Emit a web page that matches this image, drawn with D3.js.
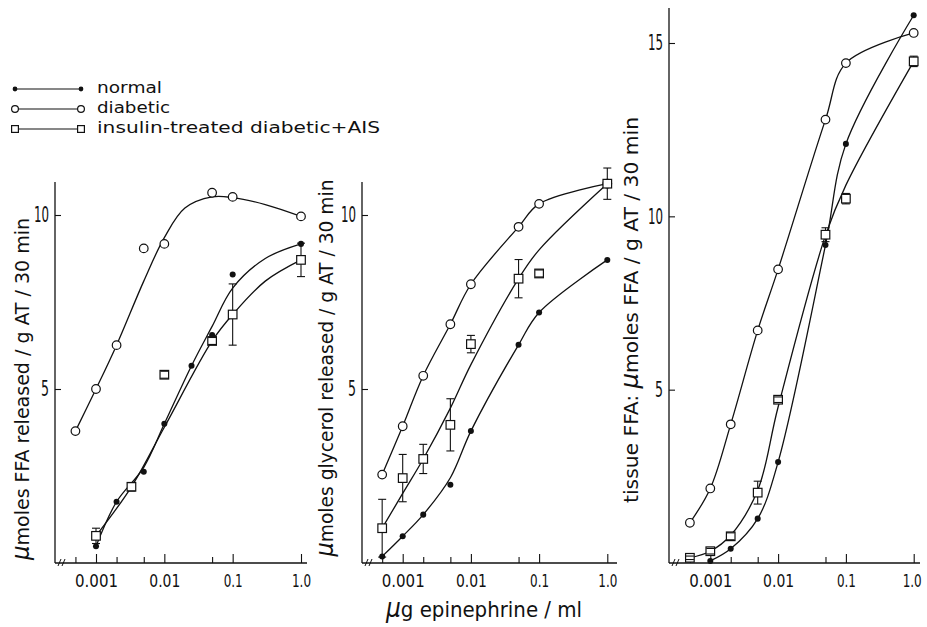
<!DOCTYPE html>
<html>
<head>
<meta charset="utf-8">
<script src="https://cdn.jsdelivr.net/npm/d3@7"></script>
<style>
  body { margin: 0; background: #fff; }
  text { font-family: "Liberation Sans Narrow", "DejaVu Sans Condensed", Roboto, sans-serif; fill: #111; }
  .legend text { font-family: "DejaVu Sans", "Noto Sans", sans-serif; }
</style>
</head>
<body>
<div id="chart"></div>
<script>
// ---- data (dose in ug epinephrine / ml) ----
var doses = [0.0005, 0.001, 0.002, 0.005, 0.01, 0.05, 0.1, 1.0];
var tickDoses = [0.0005, 0.001, 0.002, 0.005, 0.01, 0.05, 0.1, 1.0];
var decadeLabels = { 0.001: "0.001", 0.01: "0.01", 0.1: "0.1", 1: "1.0" };

// panel 1: FFA released
var ffaDiabetic = [3.79, 5.0, 6.26, 9.04, 9.17, 10.64, 10.52, 9.96];
var ffaNormalDose = [0.001, 0.002, 0.005, 0.01, 0.025, 0.05, 0.1, 1.0];
var ffaNormal = [0.48, 1.76, 2.62, 4.0, 5.67, 6.55, 8.29, 9.17];
var ffaAisDose = [0.001, 0.0033, 0.01, 0.05, 0.1, 1.0];
var ffaAis = [0.78, 2.19, 5.41, 6.38, 7.14, 8.71];
var ffaAisErr = [0.22, 0.12, 0.1, 0.1, 0.88, 0.48];
// hand-drawn fitted curves
var ffaDiabCurveDose = [0.0005, 0.001, 0.002, 0.005, 0.01, 0.02, 0.05, 0.1, 0.3, 1.0];
var ffaDiabCurve = [3.79, 5.0, 6.26, 8.1, 9.35, 10.2, 10.52, 10.5, 10.3, 9.96];
var ffaNormCurveDose = [0.001, 0.002, 0.005, 0.01, 0.025, 0.05, 0.1, 0.3, 1.0];
var ffaNormCurve = [0.48, 1.76, 2.75, 4.0, 5.67, 6.8, 7.9, 8.75, 9.17];
var ffaAisCurveDose = [0.001, 0.0033, 0.01, 0.05, 0.1, 0.3, 1.0];
var ffaAisCurve = [0.78, 2.19, 3.9, 6.38, 7.14, 8.1, 8.71];

// panel 2: glycerol released
var glyDiabetic = [2.54, 3.93, 5.38, 6.86, 8.01, 9.66, 10.32, 10.9];
var glyNormal = [0.19, 0.77, 1.39, 2.25, 3.79, 6.27, 7.2, 8.71];
var glyAis = [1.0, 2.44, 2.99, 3.97, 6.29, 8.17, 8.32, 10.9];
var glyAisErr = [0.83, 0.68, 0.42, 0.75, 0.25, 0.55, 0.1, 0.45];
var glyNormCurve = [0.19, 0.77, 1.39, 2.45, 3.79, 6.27, 7.2, 8.71];
var glyAisCurve = [1.0, 2.0, 2.99, 4.45, 5.7, 8.17, 9.0, 10.9];

// panel 3: tissue FFA
var tisDiabetic = [1.16, 2.15, 4.0, 6.71, 8.47, 12.79, 14.42, 15.29];
var tisNormalDose = [0.001, 0.002, 0.005, 0.01, 0.05, 0.1, 1.0];
var tisNormal = [0.06, 0.41, 1.28, 2.91, 9.17, 12.09, 15.8];
var tisAis = [0.15, 0.34, 0.77, 2.03, 4.71, 9.47, 10.51, 14.47];
var tisAisErr = [0.05, 0.08, 0.1, 0.33, 0.08, 0.2, 0.15, 0.15];
var tisAisCurve = [0.15, 0.34, 0.8, 2.1, 4.5, 9.45, 10.9, 14.47];

var legendNames = ["normal", "diabetic", "insulin-treated  diabetic+AIS"];
var legendKinds = ["normal", "diabetic", "ais"];

var zip = function(a, b) { return a.map(function(d, i) { return [d, b[i]]; }); };

// ---- panel layout ----
var panels = [
  { axisX: 55, xRange: [96, 301], axisEnd: 307, top: 182, yDomain: [0, 10], yRange: [563, 215], yTicks: [5, 10],
    label: ["", "moles FFA released / g AT / 30 min"], labelX: 22, labelY: 389, labelLen: 342,
    series: [
      { kind: "diabetic", pts: zip(doses, ffaDiabetic), curve: zip(ffaDiabCurveDose, ffaDiabCurve) },
      { kind: "normal", pts: zip(ffaNormalDose, ffaNormal), curve: zip(ffaNormCurveDose, ffaNormCurve) },
      { kind: "ais", pts: zip(ffaAisDose, ffaAis), err: ffaAisErr, curve: zip(ffaAisCurveDose, ffaAisCurve) }
    ] },
  { axisX: 362, xRange: [402.7, 607.3], axisEnd: 617, top: 182, yDomain: [0, 10], yRange: [563, 215], yTicks: [5, 10],
    label: ["", "moles glycerol released / g AT / 30 min"], labelX: 326, labelY: 368, labelLen: 377,
    series: [
      { kind: "diabetic", pts: zip(doses, glyDiabetic), curve: zip(doses, glyDiabetic) },
      { kind: "normal", pts: zip(doses, glyNormal), curve: zip(doses, glyNormCurve) },
      { kind: "ais", pts: zip(doses, glyAis), err: glyAisErr, curve: zip(doses, glyAisCurve) }
    ] },
  { axisX: 669, xRange: [710.3, 913.7], axisEnd: 920, top: 8, yDomain: [0, 15], yRange: [563, 43], yTicks: [5, 10, 15],
    label: ["tissue FFA: ", "moles FFA / g AT / 30 min"], labelX: 631, labelY: 310, labelLen: 386,
    series: [
      { kind: "diabetic", pts: zip(doses, tisDiabetic), curve: zip(doses, tisDiabetic) },
      { kind: "normal", pts: zip(tisNormalDose, tisNormal), curve: zip(tisNormalDose, tisNormal) },
      { kind: "ais", pts: zip(doses, tisAis), err: tisAisErr, curve: zip(doses, tisAisCurve) }
    ] }
];

var svg = d3.select("#chart").append("svg")
  .attr("width", 927).attr("height", 627);

function drawMarker(g, kind, cx, cy, size) {
  if (kind === "normal") {
    g.append("circle").attr("cx", cx).attr("cy", cy).attr("r", size * 0.7).attr("fill", "#111");
  } else if (kind === "diabetic") {
    g.append("circle").attr("cx", cx).attr("cy", cy).attr("r", size)
      .attr("fill", "#fff").attr("stroke", "#111").attr("stroke-width", 1.2);
  } else {
    g.append("rect").attr("x", cx - size).attr("y", cy - size).attr("width", size * 2).attr("height", size * 2)
      .attr("fill", "#fff").attr("stroke", "#111").attr("stroke-width", 1.2);
  }
}

// narrow the condensed font a little more, like the original lettering
var tickTextWidth = { 5: 43, 4: 31, 3: 19, 2: 15, 1: 8 };
function squeeze(sel) {
  sel.attr("textLength", function() { return tickTextWidth[this.textContent.length]; })
     .attr("lengthAdjust", "spacingAndGlyphs");
}

panels.forEach(function(p, pi) {
  var x = d3.scaleLog().domain([0.001, 1]).range(p.xRange);
  var y = d3.scaleLinear().domain(p.yDomain).range(p.yRange);
  var base = y(0);
  var g = svg.append("g");

  // axis lines
  g.append("line").attr("x1", p.axisX).attr("x2", p.axisX).attr("y1", base).attr("y2", p.top)
    .attr("stroke", "#111").attr("stroke-width", 1.3);
  g.append("line").attr("x1", p.axisX).attr("x2", p.axisEnd).attr("y1", base).attr("y2", base)
    .attr("stroke", "#111").attr("stroke-width", 1.3);
  // break marks "//"
  [3, 7].forEach(function(o) {
    g.append("line").attr("x1", p.axisX + o).attr("y1", base + 3).attr("x2", p.axisX + o + 3).attr("y2", base - 4)
      .attr("stroke", "#111").attr("stroke-width", 1);
  });

  // x ticks (pointing inward)
  var xa = g.append("g").attr("transform", "translate(0," + base + ")")
    .call(d3.axisBottom(x).tickValues(tickDoses).tickSize(-6).tickPadding(11)
      .tickFormat(function(d) { return decadeLabels[d] || ""; }));
  xa.select(".domain").remove();
  xa.selectAll(".tick line").attr("stroke", "#111").attr("stroke-width", 1.1)
    .attr("y2", function(d) { return decadeLabels[d] ? -9 : -6; });
  xa.selectAll(".tick text").attr("font-size", 18).attr("fill", "#111")
    .filter(function(d) { return decadeLabels[d]; }).call(squeeze);
  // keep the last label of the right panel inside the page
  if (pi === panels.length - 1) {
    xa.selectAll(".tick text").filter(function(d) { return d === 1; }).attr("dx", -2);
  }

  // y ticks (pointing inward)
  var ya = g.append("g").attr("transform", "translate(" + p.axisX + ",0)")
    .call(d3.axisLeft(y).tickValues(p.yTicks).tickSize(-6).tickPadding(6).tickFormat(d3.format("d")));
  ya.select(".domain").remove();
  ya.selectAll(".tick line").attr("stroke", "#111").attr("stroke-width", 1.1);
  ya.selectAll(".tick text").attr("font-size", 21).attr("fill", "#111").call(squeeze);

  // y label
  var lab = g.append("text").attr("transform", "translate(" + p.labelX + "," + p.labelY + ") rotate(-90)")
    .attr("text-anchor", "middle").attr("dy", "0.35em").attr("font-size", 20)
    .attr("textLength", p.labelLen).attr("lengthAdjust", "spacingAndGlyphs");
  lab.append("tspan").text(p.label[0]);
  lab.append("tspan").attr("font-style", "italic").attr("font-size", 24).text("\u03bc");
  lab.append("tspan").text(p.label[1]);

  var line = d3.line().x(function(d) { return x(d[0]); }).y(function(d) { return y(d[1]); })
    .curve(d3.curveCatmullRom.alpha(0.5));

  p.series.forEach(function(s) {
    g.append("path").attr("d", line(s.curve)).attr("fill", "none")
      .attr("stroke", "#111").attr("stroke-width", 1.3);
  });

  p.series.forEach(function(s) {
    var mg = g.append("g");
    if (s.err) {
      s.pts.forEach(function(d, i) {
        mg.append("line").attr("x1", x(d[0])).attr("x2", x(d[0]))
          .attr("y1", y(d[1] - s.err[i])).attr("y2", y(d[1] + s.err[i]))
          .attr("stroke", "#111").attr("stroke-width", 1.1);
      });
    }
    s.pts.forEach(function(d) {
      drawMarker(mg, s.kind, x(d[0]), y(d[1]), 4.3);
    });
    if (s.err) {
      s.pts.forEach(function(d, i) {
        [d[1] - s.err[i], d[1] + s.err[i]].forEach(function(v) {
          mg.append("line").attr("x1", x(d[0]) - 4).attr("x2", x(d[0]) + 4)
            .attr("y1", y(v)).attr("y2", y(v)).attr("stroke", "#111").attr("stroke-width", 1.1);
        });
      });
    }
  });
});

// x axis title
var xt = svg.append("text").attr("x", 484).attr("y", 617).attr("text-anchor", "middle").attr("font-size", 22);
xt.append("tspan").attr("font-style", "italic").attr("font-size", 26).text("\u03bc");
xt.append("tspan").text("g  epinephrine / ml");

// legend
var legendWidths = [65, 73, 283];
var legY = d3.scalePoint().domain(legendKinds).range([89, 129]);
var leg = svg.append("g").attr("class", "legend");
legendKinds.forEach(function(k, i) {
  var ly = legY(k);
  leg.append("line").attr("x1", 15).attr("x2", 81).attr("y1", ly).attr("y2", ly)
    .attr("stroke", "#111").attr("stroke-width", 1.2);
  drawMarker(leg, k, 15, ly, 3.4);
  drawMarker(leg, k, 81, ly, 3.4);
  leg.append("text").attr("x", 97).attr("y", ly + 4).attr("font-size", 16.5)
    .attr("textLength", legendWidths[i]).attr("lengthAdjust", "spacingAndGlyphs")
    .text(legendNames[i]);
});
</script>
</body>
</html>
